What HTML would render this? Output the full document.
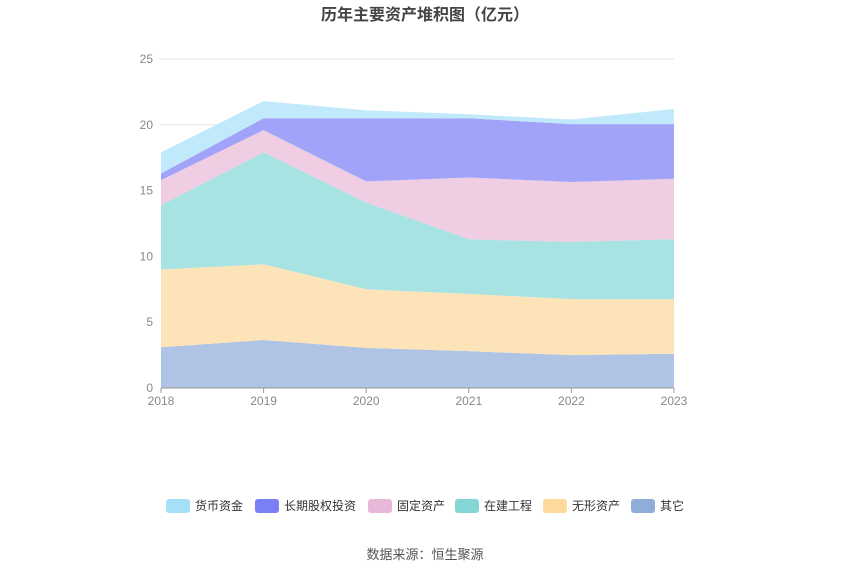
<!DOCTYPE html>
<html><head><meta charset="utf-8"><style>
body{margin:0;background:#fff;font-family:"Liberation Sans","Noto Sans CJK SC",sans-serif}
svg text{font-family:"Liberation Sans","Noto Sans CJK SC",sans-serif}
</style></head><body>
<svg id="c" width="850" height="575">
<text x="425" y="20" text-anchor="middle" font-size="16" font-weight="bold" fill="#444">历年主要资产堆积图（亿元）</text>
<g id="grid"></g><g id="areas"></g><g id="axes"></g><g id="legend"></g>
<text x="425" y="559" text-anchor="middle" font-size="13" fill="#555">数据来源：恒生聚源</text>
</svg>
<script>
const years=["2018","2019","2020","2021","2022","2023"];
const seriesNames=["其它","无形资产","在建工程","固定资产","长期股权投资","货币资金"];
const other=[3.1,3.65,3.05,2.8,2.5,2.6];
const intangible=[5.9,5.75,4.45,4.35,4.25,4.15];
const construction=[4.9,8.5,6.6,4.15,4.35,4.55];
const fixed=[1.9,1.7,1.6,4.7,4.55,4.6];
const equity=[0.5,0.9,4.8,4.5,4.4,4.15];
const cash=[1.6,1.3,0.6,0.3,0.35,1.15];
const yTicks=[0,5,10,15,20,25];
const series=[other,intangible,construction,fixed,equity,cash];
const fills=["#afc3e4","#fde4b8","#a8e3e3","#efcde3","#a0a3f8","#c0e9fb"];
const legendColors=["#a5e0f8","#7b7ff5","#e9b7d8","#86d6d6","#fdd99b","#8fadd9"];
const NS="http://www.w3.org/2000/svg";
const x0=161,x1=674,y0=388,y1=59;
const X=i=>x0+(x1-x0)*i/(years.length-1);
const Y=v=>y0-(y0-y1)*v/25;
function mk(t,a,p){const e=document.createElementNS(NS,t);for(const k in a)e.setAttribute(k,a[k]);p.appendChild(e);return e;}
const grid=document.getElementById('grid'),axes=document.getElementById('axes'),areas=document.getElementById('areas'),leg=document.getElementById('legend');
yTicks.forEach(t=>{
 if(t>0){const l=mk('line',{x1:x0,x2:x1,y1:Y(t),y2:Y(t),stroke:'#e6e6e6'},grid);
 
 }
 const tx=mk('text',{x:x0-8,y:Y(t)+4,'text-anchor':'end','font-size':12,fill:'#888'},axes);tx.textContent=t;
 
 
});
let base=years.map(()=>0);
series.forEach((s,k)=>{
 const top=base.map((b,i)=>b+s[i]);
 let d=top.map((v,i)=>(i?'L':'M')+X(i)+','+Y(v)).join(' ');
 for(let i=years.length-1;i>=0;i--)d+=' L'+X(i)+','+Y(base[i]);
 const p=mk('path',{d:d+'Z',fill:fills[k]},areas);
 
 
 base=top;
});
mk('line',{x1:x0,x2:x1,y1:y0,y2:y0,stroke:'#999'},axes);
years.forEach((yr,i)=>{
 mk('line',{x1:X(i),x2:X(i),y1:y0,y2:y0+5,stroke:'#999'},axes);
 const t=mk('text',{x:X(i),y:y0+17,'text-anchor':'middle','font-size':12,fill:'#888'},axes);t.textContent=yr;
 
 
});
const legNames=["货币资金","长期股权投资","固定资产","在建工程","无形资产","其它"];
const legX=[166,255,368,455,543,631];
legNames.forEach((n,i)=>{
 const g=mk('g',{},leg);
 
 
 mk('rect',{x:legX[i],y:499,width:24,height:14,rx:3,fill:legendColors[i]},g);
 const t=mk('text',{x:legX[i]+29,y:510,'font-size':12,fill:'#333'},g);t.textContent=n;
});
</script>
</body></html>
